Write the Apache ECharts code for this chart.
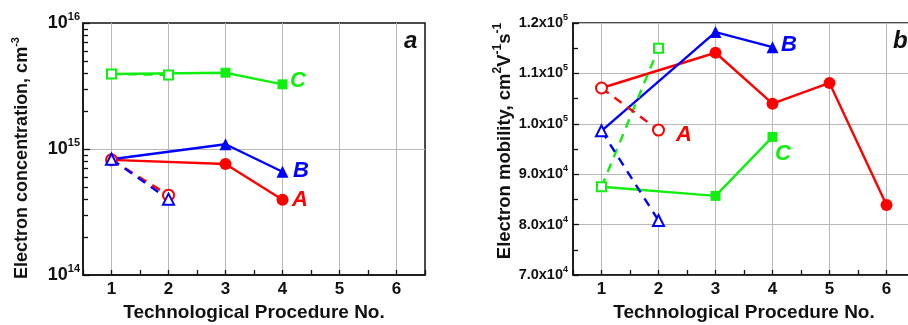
<!DOCTYPE html>
<html>
<head>
<meta charset="utf-8">
<script src="https://cdn.jsdelivr.net/npm/echarts@6/dist/echarts.min.js"></script>
<style>
  html, body { margin: 0; padding: 0; background: #fff; }
  #chart { width: 908px; height: 325px; }
</style>
</head>
<body>
<div id="chart"></div>
<script>
// procedure numbers (x)
var procNo = [1, 2, 3, 4, 5, 6];

// panel a: electron concentration, cm^-3 (index = procedure - 1)
var concA = [8.2e14, 4.3e14, 7.6e14, 3.95e14];
var concB = [8.3e14, 4.0e14, 1.09e15, 6.6e14];
var concC = [3.94e15, 3.87e15, 4.03e15, 3.26e15];
var concMajor = [1e14, 1e15, 1e16];
var concMinor = [2e14, 3e14, 4e14, 5e14, 6e14, 7e14, 8e14, 9e14,
                 2e15, 3e15, 4e15, 5e15, 6e15, 7e15, 8e15, 9e15];

// panel b: electron mobility, cm^2 V^-1 s^-1
var mobA = [107100, 98750, 114100, 104000, 108100, 83900];
var mobB = [98600, 80800, 118200, 115200];
var mobC = [87500, 115000, 85700, 97400];

var RED = '#ff0000', BLUE = '#0000ff', GREEN = '#11ee11';
var FONT = 'Liberation Sans, Arial, sans-serif';

// solid line: point 1 then points 3.. (filled markers); dashed: 1 -> 2 (open markers)
function solidPart(vals) {
  var d = [[procNo[0], vals[0]]];
  for (var i = 2; i < vals.length; i++) d.push([procNo[i], vals[i]]);
  return d;
}
function dashPart(vals) {
  return [[procNo[0], vals[0]], [procNo[1], vals[1]]];
}
function makeSeries(idx, vals, color, shape, size) {
  var solid = solidPart(vals);
  return [{
    type: 'line', xAxisIndex: idx, yAxisIndex: idx * 2, z: 3,
    data: solid.map(function (p, i) {
      return i === 0 ? { value: p, symbol: 'none' } : p;
    }),
    symbol: shape, symbolSize: size,
    lineStyle: { color: color, width: 2.4 },
    itemStyle: { color: color, borderWidth: 0 },
    animation: false
  }, {
    type: 'line', xAxisIndex: idx, yAxisIndex: idx * 2, z: 4,
    data: dashPart(vals),
    symbol: 'empty' + shape.charAt(0).toUpperCase() + shape.slice(1),
    symbolSize: size - 1,
    lineStyle: { color: color, width: 2.4, type: [9, 7] },
    itemStyle: { color: color, borderWidth: 1.4 },
    animation: false
  }];
}

function gridLines(idx, extraY) {
  var lines = procNo.map(function (x) { return { xAxis: x }; });
  if (extraY) lines.push({ yAxis: extraY });
  return {
    type: 'line', xAxisIndex: idx, yAxisIndex: idx * 2, z: 0, data: [],
    markLine: {
      silent: true, symbol: 'none', animation: false, z: 0,
      label: { show: false },
      lineStyle: { color: '#b8b8b8', type: 'solid', width: 1 },
      data: lines
    }
  };
}

function xAxisCfg(idx) {
  return {
    type: 'value', gridIndex: idx, min: 0.5, max: 6.5, interval: 0.5,
    name: 'Technological Procedure No.', nameLocation: 'middle', nameGap: 28,
    nameTextStyle: { fontFamily: FONT, fontWeight: 'bold', fontSize: 19, color: '#111' },
    axisLine: { show: true, onZero: false, lineStyle: { color: '#111', width: 1.5 } },
    axisTick: { show: true, inside: true, length: 5, lineStyle: { color: '#111', width: 1.3 } },
    axisLabel: {
      margin: 6, fontFamily: FONT, fontWeight: 'bold', fontSize: 17, color: '#111',
      formatter: function (v) { return Math.abs(v - Math.round(v)) < 1e-6 ? String(Math.round(v)) : ''; }
    },
    splitLine: { show: false }
  };
}

var sup = function (fs, pad) {
  return { fontFamily: FONT, fontWeight: 'bold', fontSize: fs, color: '#111', padding: [0, 0, pad, 0] };
};

var chart = echarts.init(document.getElementById('chart'));
chart.setOption({
  animation: false,
  backgroundColor: '#fff',
  grid: [
    { left: 83, top: 23, width: 342, height: 252, outerBoundsMode: 'none', containLabel: false,
      show: true, borderColor: '#111', borderWidth: 1.5, backgroundColor: 'transparent' },
    { left: 573, top: 23, width: 342, height: 252, outerBoundsMode: 'none', containLabel: false,
      show: true, borderColor: '#111', borderWidth: 1.5, backgroundColor: 'transparent' }
  ],
  xAxis: [xAxisCfg(0), xAxisCfg(1)],
  yAxis: [{
    type: 'log', logBase: 10, gridIndex: 0, min: 1e14, max: 1e16, position: 'left',
    name: 'Electron concentration, cm{s|-3}', nameLocation: 'middle', nameGap: 48,
    nameTextStyle: {
      fontFamily: FONT, fontWeight: 'bold', fontSize: 18, color: '#111',
      padding: [0, 18, 0, 0],
      rich: { s: sup(11, 14) }
    },
    axisLine: { show: true, lineStyle: { color: '#111', width: 1.5 } },
    axisTick: { show: true, inside: true, length: 7, customValues: concMajor, lineStyle: { color: '#111', width: 1.3 } },
    axisLabel: {
      margin: 3, customValues: concMajor,
      formatter: function (v) { return '{b|10}{s|' + Math.round(Math.log10(v)) + '}'; },
      rich: {
        b: { fontFamily: FONT, fontWeight: 'bold', fontSize: 18, color: '#111' },
        s: sup(11, 13)
      }
    },
    splitLine: { show: false }
  }, {
    type: 'log', logBase: 10, gridIndex: 0, min: 1e14, max: 1e16, position: 'left',
    axisLine: { show: false },
    axisTick: { show: true, inside: true, length: 5, customValues: concMinor, lineStyle: { color: '#111', width: 1.3 } },
    axisLabel: { show: false },
    splitLine: { show: false }
  }, {
    type: 'value', gridIndex: 1, min: 70000, max: 120000, interval: 10000, position: 'left',
    name: 'Electron mobility, cm{s|2}V{s|-1}s{s|-1}', nameLocation: 'middle', nameGap: 52,
    nameTextStyle: {
      fontFamily: FONT, fontWeight: 'bold', fontSize: 18.5, color: '#111',
      padding: [0, 0, 0, 16],
      rich: { s: sup(12, 15) }
    },
    axisLine: { show: true, lineStyle: { color: '#111', width: 1.5 } },
    axisTick: { show: true, inside: true, length: 6, lineStyle: { color: '#111', width: 1.3 } },
    minorTick: { show: true, splitNumber: 2, length: 5, lineStyle: { color: '#111', width: 1.3 } },
    axisLabel: {
      margin: 5,
      formatter: function (v) {
        var e = Math.floor(Math.log10(v) + 1e-9);
        return '{b|' + (v / Math.pow(10, e)).toFixed(1) + 'x10}{s|' + e + '}';
      },
      rich: {
        b: { fontFamily: FONT, fontWeight: 'bold', fontSize: 14.5, color: '#111' },
        s: sup(9, 11)
      }
    },
    splitLine: { show: true, lineStyle: { color: '#b8b8b8', width: 1 } }
  }],
  series: [].concat(
    [gridLines(0, 1e15), gridLines(1, null)],
    makeSeries(0, concC, GREEN, 'rect', 10),
    makeSeries(0, concA, RED, 'circle', 12),
    makeSeries(0, concB, BLUE, 'triangle', 12),
    makeSeries(1, mobC, GREEN, 'rect', 10),
    makeSeries(1, mobA, RED, 'circle', 12),
    makeSeries(1, mobB, BLUE, 'triangle', 12)
  ),
  graphic: [
    { type: 'text', left: 290, top: 70, style: { text: 'C', fill: GREEN, font: 'italic bold 22px ' + FONT } },
    { type: 'text', left: 293, top: 160, style: { text: 'B', fill: BLUE, font: 'italic bold 22px ' + FONT } },
    { type: 'text', left: 292, top: 189, style: { text: 'A', fill: RED, font: 'italic bold 22px ' + FONT } },
    { type: 'text', left: 404, top: 29, style: { text: 'a', fill: '#111', font: 'italic bold 24px ' + FONT } },
    { type: 'text', left: 781, top: 34, style: { text: 'B', fill: BLUE, font: 'italic bold 22px ' + FONT } },
    { type: 'text', left: 676, top: 124, style: { text: 'A', fill: RED, font: 'italic bold 22px ' + FONT } },
    { type: 'text', left: 775, top: 143, style: { text: 'C', fill: GREEN, font: 'italic bold 22px ' + FONT } },
    { type: 'text', left: 893, top: 29, style: { text: 'b', fill: '#111', font: 'italic bold 24px ' + FONT } }
  ]
});
</script>
</body>
</html>
